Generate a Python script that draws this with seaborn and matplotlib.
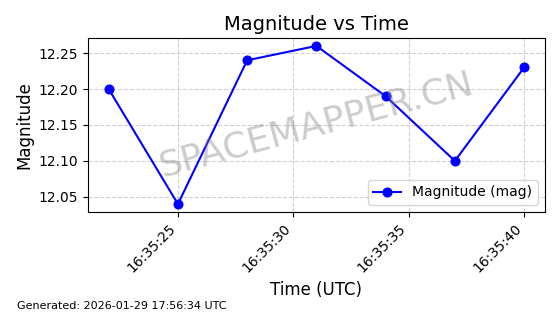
import matplotlib
matplotlib.use("Agg")
import matplotlib.pyplot as plt
import matplotlib.dates as mdates
import seaborn as sns
import pandas as pd

times = ["2026-01-29 16:35:22", "2026-01-29 16:35:25", "2026-01-29 16:35:28",
         "2026-01-29 16:35:31", "2026-01-29 16:35:34", "2026-01-29 16:35:37",
         "2026-01-29 16:35:40"]
magnitudes = [12.20, 12.04, 12.24, 12.26, 12.19, 12.10, 12.23]

df = pd.DataFrame({"time": pd.to_datetime(times), "mag": magnitudes})

fig = plt.figure(figsize=(5.6, 3.14), dpi=100)
ax = fig.add_axes([0.157, 0.325, 0.816, 0.554])
sns.lineplot(data=df, x="time", y="mag", ax=ax, color="blue", marker="o",
             markersize=6.5, markeredgecolor="blue", linewidth=1.5,
             label="Magnitude (mag)")
ax.set_title("Magnitude vs Time", fontsize=14)
ax.set_xlabel("Time (UTC)", fontsize=12)
ax.set_ylabel("Magnitude", fontsize=12)
ax.grid(True, linestyle="--", alpha=0.6)
ax.xaxis.set_major_locator(mdates.SecondLocator(bysecond=range(0, 60, 5)))
ax.xaxis.set_major_formatter(mdates.DateFormatter("%H:%M:%S"))
plt.setp(ax.get_xticklabels(), rotation=45, ha="right")
ax.legend(loc="lower right")
ax.text(0.5, 0.5, "SPACEMAPPER.CN", transform=ax.transAxes, fontsize=26,
        color="gray", alpha=0.4, rotation=15, ha="center", va="center")
fig.text(0.03, 0.015, "Generated: 2026-01-29 17:56:34 UTC", fontsize=8)
fig.savefig("out.png", dpi=100)
